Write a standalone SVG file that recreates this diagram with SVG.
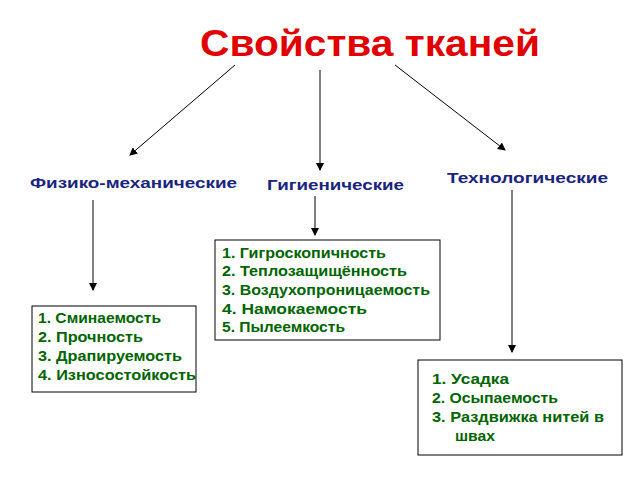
<svg xmlns="http://www.w3.org/2000/svg" width="640" height="480" viewBox="0 0 640 480">
<defs><marker id="a" markerWidth="8" markerHeight="8" refX="7" refY="4" orient="auto" markerUnits="userSpaceOnUse"><path d="M0,0 L8,4 L0,8 z" fill="#000"/></marker></defs>
<style>
.t{font-family:"Liberation Sans",Arial,sans-serif;font-weight:bold}
.h{fill:#1a237e;font-size:14px}
.g{fill:#006400;font-size:14px}
.b{fill:#fff;stroke:#000;stroke-width:1}
.c{stroke:#000;stroke-width:1;fill:none;marker-end:url(#a)}
</style>
<rect width="640" height="480" fill="#fff"/>
<g id="title"><text class="t" x="200" y="56" font-size="36" fill="#e00000" textLength="340" lengthAdjust="spacingAndGlyphs">Свойства тканей</text></g>
<g id="connectors">
<line class="c" x1="235" y1="65" x2="130" y2="155"/>
<line class="c" x1="320" y1="70" x2="320" y2="170"/>
<line class="c" x1="395" y1="65" x2="505" y2="150"/>
<line class="c" x1="315" y1="196" x2="315" y2="235"/>
<line class="c" x1="93" y1="200" x2="93" y2="290"/>
<line class="c" x1="512" y1="190" x2="512" y2="352"/>
</g>
<g id="phys"><text class="t h" x="30" y="188" textLength="207" lengthAdjust="spacingAndGlyphs">Физико-механические</text></g>
<g id="hyg"><text class="t h" x="267" y="190" textLength="137" lengthAdjust="spacingAndGlyphs">Гигиенические</text></g>
<g id="tech"><text class="t h" x="447" y="183" textLength="161" lengthAdjust="spacingAndGlyphs">Технологические</text></g>
<g id="box-hyg"><rect class="b" x="215" y="240" width="225" height="100"/>
<text class="t g" x="222" y="258" textLength="164" lengthAdjust="spacingAndGlyphs">1. Гигроскопичность</text>
<text class="t g" x="222" y="276" textLength="185" lengthAdjust="spacingAndGlyphs">2. Теплозащищённость</text>
<text class="t g" x="222" y="295" textLength="208" lengthAdjust="spacingAndGlyphs">3. Воздухопроницаемость</text>
<text class="t g" x="222" y="314" textLength="145" lengthAdjust="spacingAndGlyphs">4. Намокаемость</text>
<text class="t g" x="222" y="332" textLength="123" lengthAdjust="spacingAndGlyphs">5. Пылеемкость</text></g>
<g id="box-phys"><rect class="b" x="32" y="306" width="164" height="86"/>
<text class="t g" x="38" y="323" textLength="123" lengthAdjust="spacingAndGlyphs">1. Сминаемость</text>
<text class="t g" x="38" y="342" textLength="105" lengthAdjust="spacingAndGlyphs">2. Прочность</text>
<text class="t g" x="38" y="361" textLength="144" lengthAdjust="spacingAndGlyphs">3. Драпируемость</text>
<text class="t g" x="38" y="380" textLength="158" lengthAdjust="spacingAndGlyphs">4. Износостойкость</text></g>
<g id="box-tech"><rect class="b" x="418" y="360" width="204" height="95"/>
<text class="t g" x="432" y="384" textLength="77" lengthAdjust="spacingAndGlyphs">1. Усадка</text>
<text class="t g" x="432" y="403" textLength="126" lengthAdjust="spacingAndGlyphs">2. Осыпаемость</text>
<text class="t g" x="432" y="422" textLength="172" lengthAdjust="spacingAndGlyphs">3. Раздвижка нитей в</text>
<text class="t g" x="455" y="441" textLength="40" lengthAdjust="spacingAndGlyphs">швах</text></g>
</svg>
